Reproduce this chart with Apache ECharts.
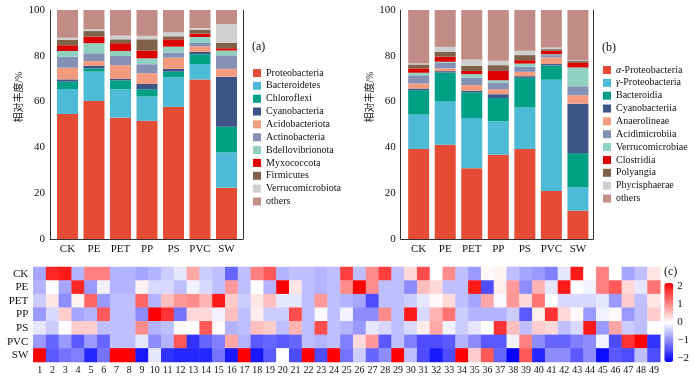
<!DOCTYPE html>
<html><head><meta charset="utf-8">
<script src="https://cdn.jsdelivr.net/npm/echarts@6/dist/echarts.min.js"></script>
<style>html,body{margin:0;padding:0;background:#fff}#c{width:700px;height:379px}</style>
</head><body><div id="c"></div>
<script>
const barCats = ['CK','PE','PET','PP','PS','PVC','SW'];
const yTicks = [0,20,40,60,80,100];

// (a) phylum level
const proteobacteria    = [54.6, 60.3, 53.0, 51.6, 57.7, 69.7, 22.4];
const bacteroidetes     = [10.9, 12.8, 12.4, 10.6, 12.9, 6.7, 15.5];
const chloroflexi       = [3.2, 1.4, 3.9, 3.2, 2.5, 4.3, 11.1];
const cyanobacteria     = [1.0, 1.1, 0.6, 2.3, 1.2, 1.0, 21.9];
const acidobacteriota   = [5.1, 2.1, 6.0, 4.7, 4.9, 2.4, 3.4];
const actinobacteria    = [4.8, 3.4, 4.0, 3.9, 2.2, 1.5, 5.9];
const bdellovibrionota  = [2.5, 4.4, 2.2, 2.6, 2.6, 2.6, 2.1];
const myxococcota       = [2.5, 2.9, 3.4, 3.4, 3.2, 1.5, 1.0];
const firmicutes        = [2.3, 2.4, 1.7, 4.9, 1.3, 1.6, 2.4];
const verrucomicrobiota = [1.0, 0.8, 1.6, 1.5, 1.8, 0.8, 8.2];
const othersA           = [12.1, 8.4, 11.2, 11.3, 9.7, 7.9, 6.1];

// (b) class level
const alphaProteo      = [39.3, 41.2, 30.9, 36.8, 39.3, 21.0, 12.4];
const gammaProteo      = [15.0, 18.9, 21.9, 14.6, 18.2, 48.6, 10.1];
const bacteroidia      = [10.7, 12.6, 11.3, 10.2, 12.9, 6.2, 15.0];
const cyanobacteriia   = [0.7, 0.6, 0.6, 1.6, 0.7, 0.6, 21.6];
const anaerolineae     = [2.2, 1.2, 2.5, 2.2, 1.9, 2.9, 3.7];
const acidimicrobiia   = [3.6, 2.4, 3.3, 2.8, 2.2, 1.0, 3.9];
const verrucomicrobiae = [1.1, 0.5, 1.5, 1.1, 1.4, 0.4, 8.2];
const clostridia       = [1.9, 2.2, 1.4, 4.1, 1.5, 1.5, 2.0];
const polyangia        = [1.7, 2.2, 2.2, 2.5, 2.2, 0.7, 0.8];
const phycisphaerae    = [0.4, 2.1, 2.8, 1.9, 1.9, 0.7, 0.4];
const othersB          = [23.4, 16.1, 21.6, 22.2, 17.8, 16.4, 21.9];

// (c) heatmap
const hmRows = ['CK','PE','PET','PP','PS','PVC','SW'];
const hmCols = ['1','2','3','4','5','6','7','8','9','10','11','12','13','14','15','16','17','18','19','20','21','22','23','24','25','26','27','28','29','30','31','32','33','34','35','36','37','38','39','40','41','42','43','44','45','46','47','48','49'];
const hmCK  = [-0.7,1.7,1.8,-0.6,1.0,1.0,-0.6,-0.6,-0.7,-0.6,-0.4,-0.2,0.7,-0.4,-0.5,-1.2,-0.5,1.0,1.3,-0.6,-0.5,-0.5,-0.6,-0.5,1.5,-0.5,0.9,1.5,-0.5,0.3,1.4,0,0.9,-0.5,-0.8,0.05,0.1,-0.5,-0.7,-0.8,-1.0,-0.2,1.8,0,1.0,0,-0.7,-0.5,0.2];
const hmPE  = [-0.6,0,-0.7,1.7,-0.8,-0.1,-0.6,-0.6,0.1,-0.3,-0.3,-0.5,-0.1,-0.3,-0.5,0.8,-0.5,0,-0.6,2.0,0.2,-0.5,-0.6,-0.5,0.9,2.0,0.9,-0.5,-0.5,-0.9,0.5,0.3,-0.5,-0.5,1.8,-1.4,0.15,0.8,-0.9,0.6,-0.2,1.8,0,-0.1,1.0,1.3,0.3,-0.2,1.1];
const hmPET = [-0.4,0.2,-0.9,0.1,1.2,-0.8,-0.5,-0.5,1.2,-0.6,0.5,0.8,0.9,0.6,1.8,0.4,-0.4,0.2,0.5,-0.2,-0.2,-0.5,0.8,-0.5,-0.6,-0.7,-1.4,-0.5,-0.5,-0.4,-0.2,0.05,0.3,-0.5,-0.7,0.7,-0.05,0.8,0.3,1.1,0,-0.3,-0.3,-0.3,-0.2,-0.8,0.4,-0.5,0.2];
const hmPP  = [-0.8,-0.3,0.4,-0.7,-0.6,1.3,-0.5,-0.5,-0.9,2.0,1.6,-1.1,0.3,0.3,-0.1,0.5,-0.5,0.15,-0.4,-0.4,1.4,-0.5,-0.05,-0.5,-0.1,-0.9,-0.9,0.9,-0.5,1.8,-0.3,0.6,1.1,-0.4,-0.6,-0.6,-0.6,-0.4,-1.3,0.15,1.6,0.3,0.05,-0.8,-0.1,0.05,-0.8,-0.5,0.4];
const hmPS  = [-0.2,-0.4,0,0.4,0.4,-0.5,-0.5,-0.5,0.9,-0.6,-0.5,0.05,0,1.3,0.05,-0.6,-0.5,0.5,0.4,-0.5,0.6,-0.5,1.4,-0.5,-0.6,-0.8,-0.2,-0.3,-0.5,-0.3,0.15,0.7,-0.1,-0.4,-0.2,0,1.6,0.5,-0.5,0.4,0.3,-0.5,-0.3,1.8,-0.8,0.7,-0.4,-0.5,0];
const hmPVC = [-0.8,-1.2,-0.8,-1.3,-0.8,-1.2,-0.5,-0.5,-0.2,-0.9,-0.6,1.3,-1.6,-1.2,-1.0,0.7,-0.6,-1.3,-1.2,-1.3,-1.2,-0.5,-0.6,-0.5,-1.0,0.3,0.8,-1.3,-0.5,-1.0,-1.4,-1.4,-1.3,-0.6,-0.9,-1.3,-1.3,-0.1,1.0,-0.9,-1.2,-1.2,-1.0,-0.9,-0.1,-1.4,1.6,2.0,-1.6];
const hmSW  = [2.0,-1.3,-1.1,-1.0,-1.7,-1.1,2.0,2.0,-1.8,-0.2,-1.6,-1.7,-1.7,-1.7,-1.1,-1.8,2.0,-1.8,-1.3,0,-1.4,2.0,-1.4,2.0,-1.1,-0.4,-1.2,-0.9,2.0,-0.5,-1.4,-1.8,-1.4,2.0,0.4,1.3,-1.2,-2.0,1.3,-1.7,-0.9,-0.9,-1.3,-0.9,-1.9,-1.3,-1.4,-0.5,-1.4];
const cbTicks = [-2,-1,0,1,2];

const palette = ['#E64B35','#4DBBD5','#00A087','#3C5488','#F39B7F','#8491B4','#91D1C2','#DC0000','#7E6148','#CFCFCF','#C08C85'];
const seriesA = [
  ['Proteobacteria', proteobacteria], ['Bacteroidetes', bacteroidetes], ['Chloroflexi', chloroflexi],
  ['Cyanobacteria', cyanobacteria], ['Acidobacteriota', acidobacteriota], ['Actinobacteria', actinobacteria],
  ['Bdellovibrionota', bdellovibrionota], ['Myxococcota', myxococcota], ['Firmicutes', firmicutes],
  ['Verrucomicrobiota', verrucomicrobiota], ['others', othersA]
];
const seriesB = [
  ['α-Proteobacteria', alphaProteo], ['γ-Proteobacteria', gammaProteo], ['Bacteroidia', bacteroidia],
  ['Cyanobacteriia', cyanobacteriia], ['Anaerolineae', anaerolineae], ['Acidimicrobiia', acidimicrobiia],
  ['Verrucomicrobiae', verrucomicrobiae], ['Clostridia', clostridia], ['Polyangia', polyangia],
  ['Phycisphaerae', phycisphaerae], ['others', othersB]
];
const hmValues = [hmCK, hmPE, hmPET, hmPP, hmPS, hmPVC, hmSW];

const FF = "'Liberation Serif','Noto Sans CJK SC',serif";
const TC = '#111';
const LC = '#333';

const hmData = [];
hmValues.forEach((row, r) => row.forEach((v, c) => hmData.push([c, r, v])));

function frameX(gi){ return {gridIndex:gi,type:'value',min:0,max:1,axisLine:{show:true,lineStyle:{color:LC}},axisTick:{show:false},axisLabel:{show:false},splitLine:{show:false}}; }
function barX(gi){ return {gridIndex:gi,type:'category',data:barCats,axisLine:{show:false},axisTick:{show:false},axisLabel:{interval:0,color:TC,fontFamily:FF,fontSize:11,margin:5}}; }
function leftY(gi){ return {gridIndex:gi,type:'value',min:0,max:100,interval:20,position:'left',
  name:'相对丰度/%',nameLocation:'middle',nameGap:19,nameRotate:90,
  nameTextStyle:{color:TC,fontFamily:FF,fontSize:10,padding:[0,0,0,55]},
  axisLine:{show:true,lineStyle:{color:LC}},axisTick:{show:false},splitLine:{show:false},
  axisLabel:{color:TC,fontFamily:FF,fontSize:11,margin:5}}; }
function rightY(gi){ return {gridIndex:gi,type:'value',min:0,max:100,position:'right',axisLine:{show:true,lineStyle:{color:LC}},axisTick:{show:false},axisLabel:{show:false},splitLine:{show:false}}; }
function hiddenY(gi){ return {gridIndex:gi,type:'value',min:0,max:100,show:false}; }

const series = [];
seriesA.forEach(([n, d], i) => series.push({name:n,type:'bar',stack:'a',xAxisIndex:1,yAxisIndex:2,barWidth:21,data:d,itemStyle:{color:palette[i]},emphasis:{disabled:true}}));
seriesB.forEach(([n, d], i) => series.push({name:n,type:'bar',stack:'b',xAxisIndex:3,yAxisIndex:5,barWidth:21,data:d,itemStyle:{color:palette[i]},emphasis:{disabled:true}}));
series.push({type:'heatmap',xAxisIndex:4,yAxisIndex:6,data:hmData,emphasis:{disabled:true},progressive:0});

const legendText = {color:TC,fontFamily:FF,fontSize:10,lineHeight:10,rich:{i:{fontStyle:'italic',fontFamily:FF,fontSize:10,color:TC}}};
const option = {
  animation:false,
  backgroundColor:'#fff',
  title:[
    {text:'(a)',left:252,top:41,padding:0,textStyle:{color:TC,fontFamily:FF,fontSize:12,fontWeight:'normal'}},
    {text:'(b)',left:602,top:42,padding:0,textStyle:{color:TC,fontFamily:FF,fontSize:12,fontWeight:'normal'}},
    {text:'(c)',left:664,top:266,padding:0,textStyle:{color:TC,fontFamily:FF,fontSize:12,fontWeight:'normal'}}
  ],
  legend:[
    {data:seriesA.map(s=>s[0]),orient:'vertical',left:253,top:68,padding:0,itemWidth:8,itemHeight:8,itemGap:2.85,icon:'rect',textStyle:legendText,selectedMode:false},
    {data:seriesB.map(s=>s[0]),orient:'vertical',left:603,top:65,padding:0,itemWidth:8,itemHeight:8,itemGap:2.85,icon:'rect',textStyle:legendText,selectedMode:false,
     formatter:function(n){ if(n.charAt(0)==='α'||n.charAt(0)==='γ') return '{i|'+n.charAt(0)+'}'+n.slice(1); return n; }}
  ],
  grid:[
    {left:50,top:10,width:193,height:229},
    {left:54.25,top:10,width:185.5,height:229},
    {left:400.7,top:10,width:192.3,height:229},
    {left:405.4,top:10,width:185.8,height:229},
    {left:33.3,top:267,width:627,height:95},
    {left:664.3,top:286,width:9,height:72}
  ],
  xAxis:[
    frameX(0), barX(1), frameX(2), barX(3),
    {gridIndex:4,type:'category',data:hmCols,axisLine:{show:false},axisTick:{show:false},splitLine:{show:false},
     axisLabel:{interval:0,color:TC,fontFamily:FF,fontSize:10,margin:3}},
    {gridIndex:5,type:'value',min:0,max:1,show:false}
  ],
  yAxis:[
    leftY(0), rightY(0), hiddenY(1), leftY(2), rightY(2), hiddenY(3),
    {gridIndex:4,type:'category',data:hmRows,inverse:true,axisLine:{show:false},axisTick:{show:false},splitLine:{show:false},
     axisLabel:{interval:0,color:TC,fontFamily:FF,fontSize:11,margin:5}},
    {gridIndex:5,type:'value',min:cbTicks[0],max:cbTicks[cbTicks.length-1],interval:1,position:'right',
     axisLine:{show:false},axisTick:{show:false},splitLine:{show:false},
     axisLabel:{color:TC,fontFamily:FF,fontSize:11,margin:4,formatter:function(v){return String(v).replace('-','\u2212');}}}
  ],
  visualMap:{type:'continuous',min:-2,max:2,seriesIndex:series.length-1,left:664.3,top:283,itemWidth:9,itemHeight:79,padding:0,
    calculable:false,text:null,showLabel:false,inRange:{color:['#0000ff','#ffffff','#ff0000']}},
  series:series
};
const chart = echarts.init(document.getElementById('c'), null, {renderer:'canvas'});
chart.setOption(option);
</script></body></html>
